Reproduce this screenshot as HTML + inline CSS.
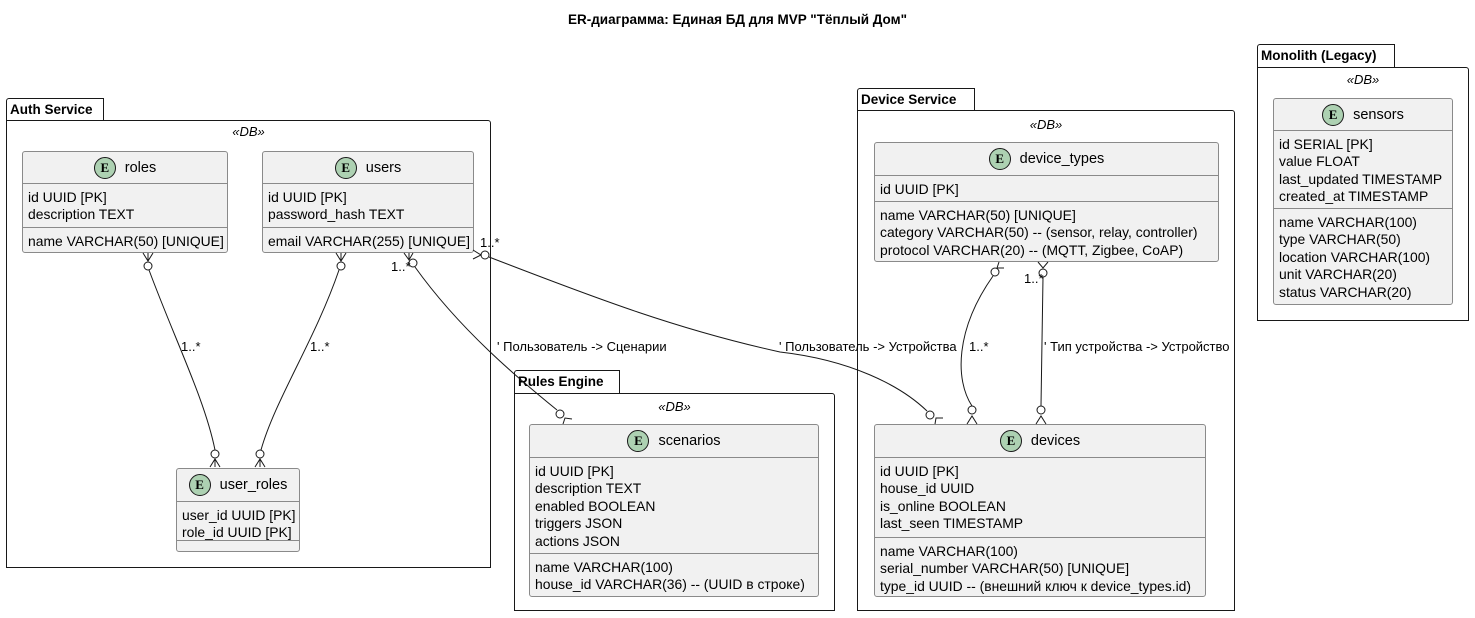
<!DOCTYPE html>
<html><head><meta charset="utf-8"><style>
body{margin:0;width:1475px;height:618px;background:#fff;position:relative;overflow:hidden;font-family:"Liberation Sans",sans-serif;color:#000}
.t{position:absolute;white-space:nowrap}
.pk{position:absolute;border:1.5px solid #181818;background:#fff;box-sizing:border-box;border-radius:0 3px 0 0}
.tab{position:absolute;border:1.5px solid #181818;border-bottom:none;background:#fff;box-sizing:border-box;font-weight:bold;font-size:13.5px;padding:3px 0 0 3px;border-radius:3px 0 0 0}
.db{position:absolute;font-style:italic;font-size:13px;text-align:center}
.e{position:absolute;background:#f1f1f1;border:1px solid #8a8a8a;border-radius:3px;box-sizing:border-box;font-size:13.9px}
.h{display:flex;align-items:center;justify-content:center;border-bottom:1px solid #8a8a8a;box-sizing:border-box;font-size:14.5px}
.c{width:20px;height:20px;border-radius:50%;background:#add1b2;border:1px solid #181818;font:bold 13px "Liberation Serif",serif;display:flex;align-items:center;justify-content:center;margin-right:9px}
.s{padding:5px 0 0 5px;line-height:17.4px;box-sizing:border-box;white-space:nowrap}
.s+.s{border-top:1px solid #8a8a8a}
.l{font-size:13px;position:absolute;white-space:nowrap}
</style></head><body>
<div class="t" style="left:0;width:1475px;top:12px;text-align:center;font-weight:bold;font-size:13.5px">ER-диаграмма: Единая БД для MVP "Тёплый Дом"</div>

<div class="tab" style="left:6px;top:98px;width:98px;height:24px">Auth Service</div>
<div class="pk" style="left:6px;top:120px;width:485px;height:448px"></div>
<div class="db" style="left:6px;top:124px;width:485px">«DB»</div>
<div class="tab" style="left:857px;top:88px;width:118px;height:24px">Device Service</div>
<div class="pk" style="left:857px;top:110px;width:378px;height:501px"></div>
<div class="db" style="left:857px;top:117px;width:378px">«DB»</div>
<div class="tab" style="left:1257px;top:44px;width:138px;height:25px">Monolith (Legacy)</div>
<div class="pk" style="left:1257px;top:67px;width:212px;height:254px"></div>
<div class="db" style="left:1257px;top:72px;width:212px">«DB»</div>
<div class="tab" style="left:514px;top:370px;width:106px;height:25px">Rules Engine</div>
<div class="pk" style="left:514px;top:393px;width:321px;height:218px"></div>
<div class="db" style="left:514px;top:399px;width:321px">«DB»</div>

<div class="e" style="left:22px;top:151px;width:206px;height:102px">
<div class="h" style="height:32px"><span class="c">E</span>roles</div>
<div class="s" style="height:43px">id UUID [PK]<br>description TEXT</div>
<div class="s">name VARCHAR(50) [UNIQUE]</div></div>

<div class="e" style="left:262px;top:151px;width:212px;height:102px">
<div class="h" style="height:32px"><span class="c">E</span>users</div>
<div class="s" style="height:43px">id UUID [PK]<br>password_hash TEXT</div>
<div class="s">email VARCHAR(255) [UNIQUE]</div></div>

<div class="e" style="left:176px;top:468px;width:124px;height:84px">
<div class="h" style="height:33px"><span class="c">E</span>user_roles</div>
<div class="s" style="height:38px">user_id UUID [PK]<br>role_id UUID [PK]</div>
<div class="s"></div></div>

<div class="e" style="left:529px;top:424px;width:290px;height:173px">
<div class="h" style="height:33px"><span class="c">E</span>scenarios</div>
<div class="s" style="height:95px">id UUID [PK]<br>description TEXT<br>enabled BOOLEAN<br>triggers JSON<br>actions JSON</div>
<div class="s">name VARCHAR(100)<br>house_id VARCHAR(36) -- (UUID в строке)</div></div>

<div class="e" style="left:874px;top:142px;width:345px;height:120px">
<div class="h" style="height:33px"><span class="c">E</span>device_types</div>
<div class="s" style="height:25px">id UUID [PK]</div>
<div class="s">name VARCHAR(50) [UNIQUE]<br>category VARCHAR(50) -- (sensor, relay, controller)<br>protocol VARCHAR(20) -- (MQTT, Zigbee, CoAP)</div></div>

<div class="e" style="left:874px;top:424px;width:332px;height:173px">
<div class="h" style="height:33px"><span class="c">E</span>devices</div>
<div class="s" style="height:79px">id UUID [PK]<br>house_id UUID<br>is_online BOOLEAN<br>last_seen TIMESTAMP</div>
<div class="s">name VARCHAR(100)<br>serial_number VARCHAR(50) [UNIQUE]<br>type_id UUID -- (внешний ключ к device_types.id)</div></div>

<div class="e" style="left:1273px;top:98px;width:180px;height:207px">
<div class="h" style="height:32px"><span class="c">E</span>sensors</div>
<div class="s" style="height:77px">id SERIAL [PK]<br>value FLOAT<br>last_updated TIMESTAMP<br>created_at TIMESTAMP</div>
<div class="s">name VARCHAR(100)<br>type VARCHAR(50)<br>location VARCHAR(100)<br>unit VARCHAR(20)<br>status VARCHAR(20)</div></div>

<svg width="1475" height="618" style="position:absolute;left:0;top:0" fill="none" stroke="#181818" stroke-width="1">
<path d="M149,270 C175,340 205,400 215,450"/>
<circle cx="148" cy="266" r="4" fill="#fff"/><path d="M143,253 L148,261 L153,253 M148,253 V261"/>
<circle cx="215" cy="454" r="4" fill="#fff"/><path d="M210,467 L215,459 L220,467 M215,467 V459"/>
<path d="M339,270 C315,340 275,400 261,450"/>
<circle cx="341" cy="266" r="4" fill="#fff"/><path d="M336,253 L341,261 L346,253 M341,253 V261"/>
<circle cx="260" cy="454" r="4" fill="#fff"/><path d="M255,467 L260,459 L265,467 M260,467 V459"/>
<path d="M415,267 C460,330 520,380 557,410"/>
<circle cx="413" cy="263" r="4" fill="#fff"/><path d="M404,253 L409,260 L413,253 M409,253 V259"/>
<circle cx="560" cy="414" r="4" fill="#fff"/><path d="M563,424 L565,418 L572,419"/>
<path d="M489,257 C600,300 680,330 780,352 C850,360 900,385 927,411"/>
<circle cx="485" cy="255" r="4" fill="#fff"/><path d="M473,250 L481,255 L473,259"/>
<circle cx="930" cy="415" r="4" fill="#fff"/><path d="M935,424 L936,418 L943,418"/>
<path d="M993,276 C955,330 955,380 972,406"/>
<circle cx="995" cy="272" r="4" fill="#fff"/><path d="M999,262 L997,268 L1004,268"/>
<circle cx="972" cy="410" r="4" fill="#fff"/><path d="M967,424 L972,416 L977,424"/>
<path d="M1043,277 L1041,406"/>
<circle cx="1043" cy="273" r="4" fill="#fff"/><path d="M1038,262 L1043,268 L1048,262"/>
<circle cx="1041" cy="410" r="4" fill="#fff"/><path d="M1036,424 L1041,416 L1046,424"/>
</svg>
<div class="l" style="left:181px;top:339px">1..*</div>
<div class="l" style="left:310px;top:339px">1..*</div>
<div class="l" style="left:391px;top:259px">1..*</div>
<div class="l" style="left:480px;top:235px">1..*</div>
<div class="l" style="left:497px;top:339px">' Пользователь -&gt; Сценарии</div>
<div class="l" style="left:779px;top:339px">' Пользователь -&gt; Устройства</div>
<div class="l" style="left:969px;top:339px">1..*</div>
<div class="l" style="left:1024px;top:271px">1..*</div>
<div class="l" style="left:1044px;top:339px">' Тип устройства -&gt; Устройство</div>
</body></html>
